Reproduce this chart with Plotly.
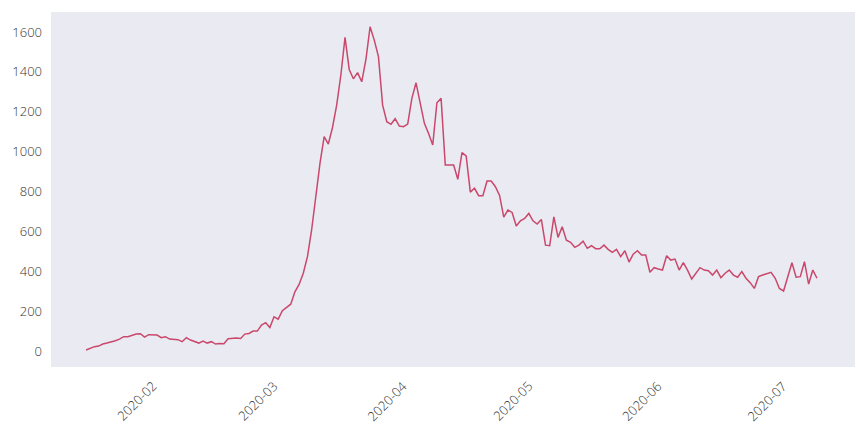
import pandas as pd
import plotly.graph_objects as go

start_date = "2020-01-20"

# daily counts, one per day from start_date
counts = [
    5, 15, 22, 25, 35, 40, 45, 52, 60, 72,
    72, 80, 85, 87, 70, 82, 80, 80, 67, 72,
    60, 58, 57, 47, 67, 55, 48, 40, 50, 40,
    47, 35, 38, 37, 62, 65, 65, 63, 85, 88,
    100, 100, 130, 142, 118, 172, 160, 202, 218, 235,
    297, 334, 390, 473, 607, 774, 941, 1075, 1038, 1121,
    1233, 1384, 1573, 1412, 1365, 1396, 1350, 1462, 1626, 1559,
    1476, 1233, 1150, 1137, 1165, 1128, 1125, 1138, 1267, 1345,
    1242, 1142, 1091, 1033, 1245, 1267, 933, 933, 933, 861,
    995, 978, 797, 816, 779, 779, 852, 852, 824, 780,
    672, 707, 695, 627, 653, 665, 690, 653, 637, 660,
    531, 528, 673, 570, 623, 556, 545, 520, 531, 551,
    515, 528, 513, 513, 531, 510, 495, 510, 473, 503,
    446, 486, 503, 481, 481, 395, 418, 411, 406, 478,
    456, 461, 406, 443, 406, 361, 390, 418, 406, 403,
    381, 406, 368, 390, 406, 381, 370, 398, 365, 343,
    314, 373, 381, 390, 395, 365, 314, 301, 373, 443,
    370, 373, 448, 336, 406, 365,
]

dates = pd.date_range(start_date, periods=len(counts), freq="D")

tick_dates = ["2020-02-01", "2020-03-01", "2020-04-01", "2020-05-01", "2020-06-01", "2020-07-01"]
tick_labels = ["2020-02", "2020-03", "2020-04", "2020-05", "2020-06", "2020-07"]

FONT = dict(family="Open Sans, sans-serif", size=13, color="#333333", weight=300)

fig = go.Figure(
    go.Scatter(
        x=dates,
        y=counts,
        mode="lines",
        line=dict(color="#c9486b", width=1.5),
        showlegend=False,
    )
)

x0 = dates[0] - pd.Timedelta(days=8.4)
x1 = dates[0] + pd.Timedelta(days=184.1)

# rotated month labels centred under their tick, like matplotlib's rotation=45
for d, lab in zip(tick_dates, tick_labels):
    fig.add_annotation(
        x=d, xref="x",
        y=0, yref="paper",
        text=lab,
        textangle=-45,
        showarrow=False,
        xanchor="center",
        yanchor="top",
        yshift=-7,
        font=FONT,
    )

# the page body has an 8px margin, so the figure is sized to sit inside it
fig.update_layout(
    width=848,
    height=416,
    margin=dict(l=43, r=1, t=4, b=57),
    paper_bgcolor="white",
    plot_bgcolor="#eaeaf2",
    font=FONT,
    xaxis=dict(
        range=[x0, x1],
        tickvals=tick_dates,
        showticklabels=False,
        showgrid=False,
        zeroline=False,
        showline=False,
        ticks="",
        automargin=False,
    ),
    yaxis=dict(
        range=[-80, 1700],
        tickvals=[0, 200, 400, 600, 800, 1000, 1200, 1400, 1600],
        showgrid=False,
        zeroline=False,
        showline=False,
        ticks="",
        ticklabelstandoff=8,
        automargin=False,
        tickfont=FONT,
    ),
)

fig.write_html("out.html")
